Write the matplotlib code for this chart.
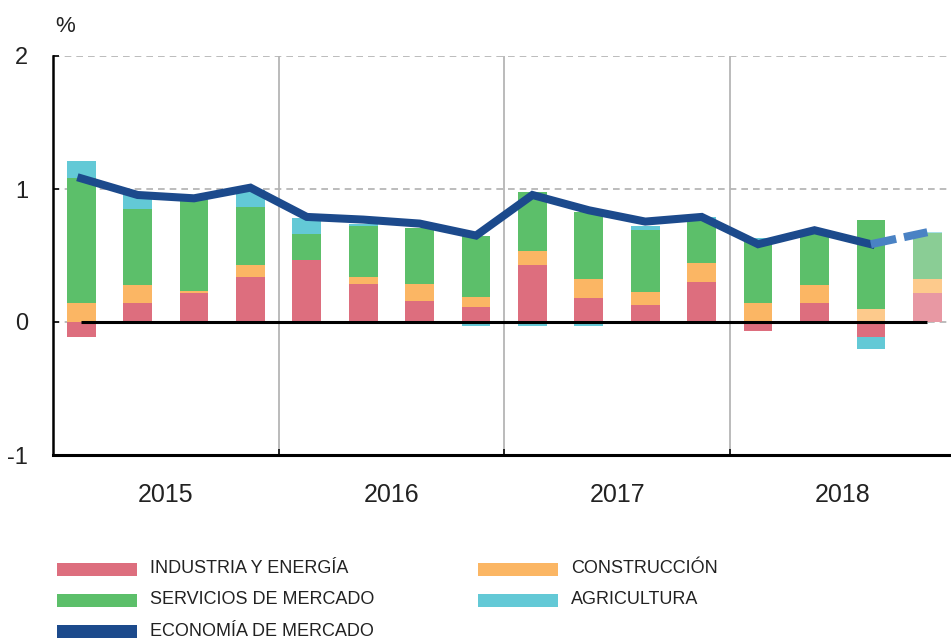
import matplotlib
matplotlib.use("Agg")
import matplotlib.pyplot as plt
import numpy as np
from matplotlib import font_manager
from matplotlib.patches import Rectangle

# quarterly contributions, 2015Q1 .. 2018Q4 (last quarter is a forecast)
years = ["2015", "2016", "2017", "2018"]
industria = [-0.11, 0.145, 0.215, 0.34, 0.465, 0.285, 0.16, 0.11,
             0.425, 0.18, 0.13, 0.30, -0.065, 0.14, -0.11, 0.215]
construccion = [0.14, 0.135, 0.02, 0.09, 0.0, 0.05, 0.125, 0.08,
                0.11, 0.14, 0.095, 0.145, 0.14, 0.135, 0.10, 0.11]
servicios = [0.945, 0.57, 0.68, 0.435, 0.195, 0.385, 0.42, 0.46,
             0.44, 0.51, 0.47, 0.325, 0.475, 0.40, 0.67, 0.345]
agricultura = [0.125, 0.13, 0.01, 0.13, 0.125, 0.02, 0.0, -0.03,
               -0.03, -0.03, 0.03, 0.02, 0.02, 0.0, -0.09, 0.01]
economia = [1.08, 0.955, 0.93, 1.01, 0.79, 0.77, 0.74, 0.65,
            0.955, 0.84, 0.755, 0.79, 0.585, 0.69, 0.585, 0.675]

RED = "#dd6e7e"; ORANGE = "#fbb664"; GREEN = "#5cbf6a"; CYAN = "#63c9d6"
NAVY = "#1c4a8c"; LIGHTBLUE = "#4a82c4"
LIGHT = {RED: "#e898a3", ORANGE: "#fdca8c", GREEN: "#8acd95", CYAN: "#a5dfe6"}
GRID = "#b0b0b0"

names = {f.name for f in font_manager.fontManager.ttflist}
NARROW = "Liberation Sans Narrow" if "Liberation Sans Narrow" in names else "Liberation Sans"
LEG_SIZE = 16 if NARROW == "Liberation Sans Narrow" else 13
plt.rcParams["font.family"] = ["Liberation Sans", "DejaVu Sans"]

fig = plt.figure(figsize=(9.51, 6.41), dpi=100)
ax = fig.add_axes([53 / 951, 186 / 641, 898 / 951, 399 / 641])

x = np.arange(len(economia))
series = [(industria, RED), (construccion, ORANGE), (servicios, GREEN), (agricultura, CYAN)]
pos = np.zeros(len(x)); neg = np.zeros(len(x))
for vals, col in series:
    v = np.array(vals)
    cols = [col] * len(x)
    cols[-1] = LIGHT[col]
    if col == ORANGE:
        cols[-2] = LIGHT[col]
    bottom = np.where(v >= 0, pos, neg)
    ax.bar(x, v, width=0.51, bottom=bottom, color=cols, linewidth=0, zorder=2)
    pos += np.where(v >= 0, v, 0)
    neg += np.where(v < 0, v, 0)

# reference lines
for yv in (0, 1, 2):
    ax.axhline(yv, color=GRID, lw=1.2, dashes=(4, 3), zorder=0)
for xs in (3.5, 7.5, 11.5):
    ax.axvline(xs, color="#b5b5b5", lw=1.3, zorder=0)
ax.hlines(0, x[0], x[-1], color="black", lw=2.2, zorder=3)

ax.plot(x[:-1], economia[:-1], color=NAVY, lw=5.8, solid_joinstyle="miter", zorder=4)
ax.plot(x[-2:], economia[-2:], color=LIGHTBLUE, lw=5.8, linestyle=(0, (3.2, 1.0)),
        dash_capstyle="butt", zorder=4)

ax.set_xlim(-0.5, 15.42)
ax.set_ylim(-1, 2)
for s in ("top", "right"):
    ax.spines[s].set_visible(False)
ax.spines["left"].set_linewidth(1.8)
ax.spines["bottom"].set_linewidth(2.2)

ax.set_yticks([-1, 0, 1, 2])
ax.set_yticklabels(["-1", "0", "1", "2"])
ax.tick_params(axis="y", direction="in", length=4, width=1.4, pad=18, labelsize=17, colors="#222222")
ax.set_xticks([1.5, 5.5, 9.5, 13.5])
ax.set_xticklabels(years)
ax.tick_params(axis="x", length=0, pad=20, labelsize=18, colors="#222222")
ax.set_xticks([3.5, 7.5, 11.5], minor=True)
ax.tick_params(axis="x", which="minor", direction="in", length=4, width=1.4, color="#222222")

fig.text(55 / 951, 1 - 26 / 641, "%", ha="left", va="center", fontsize=16, color="#222222")

# legend drawn by hand in pixel positions
legend = [("INDUSTRIA Y ENERGÍA", RED, 57, 568.5), ("SERVICIOS DE MERCADO", GREEN, 57, 599.5),
          ("ECONOMÍA DE MERCADO", NAVY, 57, 631),
          ("CONSTRUCCIÓN", ORANGE, 478, 568.5), ("AGRICULTURA", CYAN, 478, 599.5)]
W, H = 951, 641
for label, col, px, py in legend:
    fig.patches.append(Rectangle((px / W, 1 - (py + 7) / H), 80 / W, 13 / H,
                                 transform=fig.transFigure, color=col, lw=0))
    fig.text((px + 93) / W, 1 - py / H, label, ha="left", va="center",
             fontsize=LEG_SIZE, family=[NARROW, "DejaVu Sans"], color="#222222")

fig.savefig("out.png", dpi=100)
